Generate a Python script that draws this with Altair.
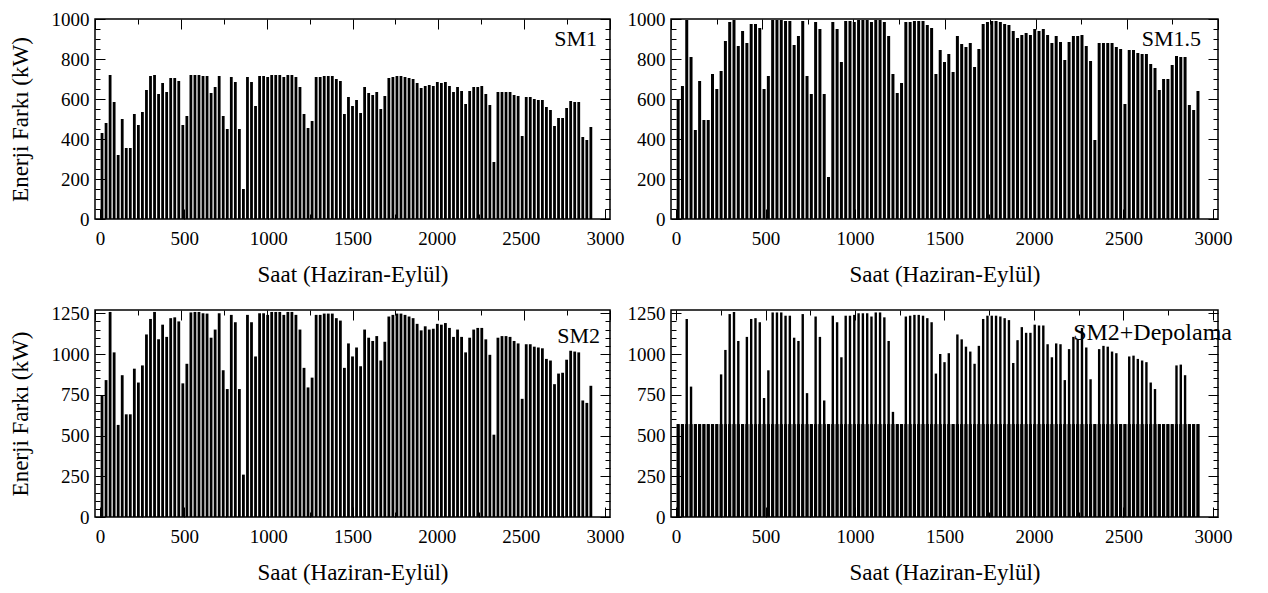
import altair as alt
import pandas as pd

FONT = "Liberation Serif"

gun = list(range(122))
saat = [24 * g + 12 for g in gun]

sm1 = [430, 480, 720, 585, 320, 500, 355, 355, 525, 470,
       535, 645, 715, 720, 625, 680, 635, 705, 705, 690,
       470, 515, 720, 720, 720, 715, 715, 630, 660, 715,
       515, 450, 710, 685, 450, 150, 710, 685, 565, 715,
       715, 710, 720, 720, 720, 710, 720, 720, 710, 660,
       525, 455, 490, 710, 710, 715, 715, 715, 700, 690,
       525, 610, 565, 595, 530, 660, 630, 620, 635, 550,
       615, 705, 710, 715, 715, 710, 705, 700, 680, 655,
       665, 670, 665, 685, 680, 685, 665, 635, 660, 640,
       575, 640, 660, 660, 665, 625, 570, 285, 635, 635,
       635, 635, 620, 615, 415, 610, 610, 600, 595, 595,
       560, 545, 465, 505, 505, 555, 590, 585, 585, 410,
       395, 460]

sm15 = [600, 665, 995, 810, 445, 690, 495, 495, 725, 650,
        740, 890, 985, 995, 865, 940, 880, 975, 975, 955,
        650, 715, 995, 995, 995, 990, 990, 870, 915, 990,
        715, 625, 985, 950, 625, 210, 985, 950, 785, 990,
        990, 985, 995, 995, 995, 985, 995, 995, 985, 915,
        725, 630, 680, 985, 985, 990, 990, 990, 970, 955,
        725, 845, 785, 825, 735, 915, 875, 860, 880, 760,
        850, 975, 985, 990, 990, 985, 975, 970, 940, 905,
        920, 930, 920, 950, 940, 950, 920, 880, 915, 885,
        795, 885, 915, 915, 920, 865, 790, 395, 880, 880,
        880, 880, 860, 850, 575, 845, 845, 830, 825, 825,
        775, 755, 645, 700, 700, 770, 815, 810, 810, 570,
        545, 640]

sm2 = [745, 840, 1258, 1010, 565, 870, 630, 630, 910, 825,
       930, 1120, 1215, 1258, 1090, 1180, 1105, 1220, 1225, 1200,
       820, 940, 1255, 1258, 1258, 1250, 1248, 1100, 1150, 1250,
       900, 785, 1240, 1195, 785, 260, 1240, 1195, 985, 1250,
       1250, 1240, 1258, 1258, 1258, 1240, 1258, 1258, 1240, 1150,
       915, 795, 855, 1240, 1240, 1248, 1248, 1248, 1220, 1205,
       915, 1065, 985, 1040, 925, 1150, 1100, 1080, 1110, 960,
       1075, 1230, 1240, 1248, 1248, 1240, 1230, 1220, 1185, 1145,
       1170, 1150, 1155, 1185, 1180, 1190, 1160, 1105, 1150, 1105,
       1010, 1100, 1150, 1160, 1160, 1090, 995, 505, 1100, 1110,
       1110, 1105, 1080, 1065, 725, 1060, 1060, 1045, 1040, 1035,
       970, 960, 815, 880, 885, 965, 1020, 1015, 1010, 715,
       700, 805]

sm2_depolama = [570, 570, 1215, 800, 570, 570, 570, 570, 570, 570,
                875, 1025, 1245, 1258, 1080, 570, 1105, 1215, 1220, 1195,
                730, 900, 1255, 1255, 1255, 1235, 1235, 1100, 1080, 1245,
                760, 570, 1230, 1105, 715, 570, 1235, 1195, 980, 1235,
                1235, 1240, 1250, 1250, 1250, 1230, 1255, 1255, 1225, 1080,
                645, 570, 570, 1230, 1235, 1240, 1240, 1235, 1220, 1195,
                880, 1000, 950, 1005, 570, 1120, 1090, 1045, 1015, 940,
                1050, 1215, 1235, 1235, 1235, 1230, 1220, 1208, 945, 1085,
                1165, 1130, 1130, 1180, 1175, 1175, 1060, 980, 1065, 1060,
                840, 1030, 1105, 1090, 1160, 1040, 845, 570, 1030, 1050,
                1045, 1015, 1005, 570, 570, 985, 990, 970, 960, 950,
                825, 785, 570, 570, 570, 570, 930, 935, 870, 570,
                570, 570]

depolama_desarj = 570

x_ticks = list(range(0, 3001, 250))
XMAX = 3000


def x_axis(orient, labels, title):
    kw = dict(orient=orient, values=x_ticks, format="d", labels=labels,
              tickSize=alt.ExprRef(expr="datum.value % 500 === 0 ? -10 : -5"),
              tickColor="black", tickWidth=1, domain=False, grid=False,
              labelPadding=20, title=title, titlePadding=15, zindex=1,
              labelFont=FONT, titleFont=FONT, labelFontSize=19, titleFontSize=23,
              titleFontWeight="normal", labelColor="black", titleColor="black")
    if labels:
        kw["labelExpr"] = "datum.value % 500 === 0 ? datum.label : ''"
    return alt.Axis(**kw)


def y_axis(orient, labels, title, yticks, ymajor):
    kw = dict(orient=orient, values=yticks, format="d", labels=labels,
              tickSize=alt.ExprRef(expr=f"datum.value % {ymajor} === 0 ? -10 : -5"),
              tickColor="black", tickWidth=1, domain=False, grid=False,
              labelPadding=16, title=title, titlePadding=19, zindex=1,
              labelFont=FONT, titleFont=FONT, labelFontSize=19, titleFontSize=23,
              titleFontWeight="normal", labelColor="black", titleColor="black")
    if labels:
        kw["labelExpr"] = f"datum.value % {ymajor} === 0 ? datum.label : ''"
    return alt.Axis(**kw)


def panel(vals, label, w, h, ymax, ymajor, ytitle, bar_w, lx, ly, lsize, base=None):
    df = pd.DataFrame({"saat": saat, "enerji": vals})
    yticks = list(range(0, ymax + 1, 50))
    xs = alt.Scale(domain=[0, XMAX], nice=False, zero=False)
    ys = alt.Scale(domain=[0, ymax], nice=False)
    main = alt.Chart(df).mark_bar(color="black", size=bar_w).encode(
        x=alt.X("saat:Q", scale=xs, axis=x_axis("bottom", True, "Saat (Haziran-Eylül)")),
        y=alt.Y("enerji:Q", scale=ys, axis=y_axis("left", True, ytitle, yticks, ymajor)),
    )
    if base is None:
        ghost = alt.Chart(df).mark_point(opacity=0).encode(
            x=alt.X("saat:Q", scale=xs, axis=x_axis("top", False, "")),
            y=alt.Y("enerji:Q", scale=ys, axis=y_axis("right", False, "", yticks, ymajor)),
        )
    else:
        dfb = pd.DataFrame({"saat": saat, "enerji": base})
        ghost = alt.Chart(dfb).mark_bar(color="black", size=bar_w + 0.8).encode(
            x=alt.X("saat:Q", scale=xs, axis=x_axis("top", False, "")),
            y=alt.Y("enerji:Q", scale=ys, axis=y_axis("right", False, "", yticks, ymajor)),
        )
    txt = alt.Chart(pd.DataFrame({"t": [label]})).mark_text(
        font=FONT, fontSize=lsize, align="right", baseline="middle", color="black"
    ).encode(text="t:N", x=alt.value(w - lx), y=alt.value(ly))
    return alt.layer(ghost, main, txt).resolve_scale(
        x="independent", y="independent"
    ).properties(width=w, height=h)


p1 = panel(sm1, "SM1", 515, 200, 1000, 200, "Enerji Farkı (kW)", 2.8, 13, 20, 22)
p2 = panel(sm15, "SM1.5", 547, 200, 1000, 200, "", 3.0, 17, 20, 22)
p3 = panel(sm2, "SM2", 515, 207, 1270, 250, "Enerji Farkı (kW)", 2.8, 10, 26, 22)
p4 = panel(sm2_depolama, "SM2+Depolama", 547, 207, 1270, 250, "", 2.4, -14, 23, 24,
           base=[depolama_desarj] * len(gun))

chart = alt.vconcat(
    alt.hconcat(p1, p2, spacing=1),
    alt.hconcat(p3, p4, spacing=1),
    spacing=16,
).configure_view(
    stroke="black", strokeWidth=1.5
).properties(
    background="white",
    padding={"left": 0, "top": 1, "right": 0, "bottom": 0}
)

chart.save("out.html", embed_options={"renderer": "svg", "actions": False})
